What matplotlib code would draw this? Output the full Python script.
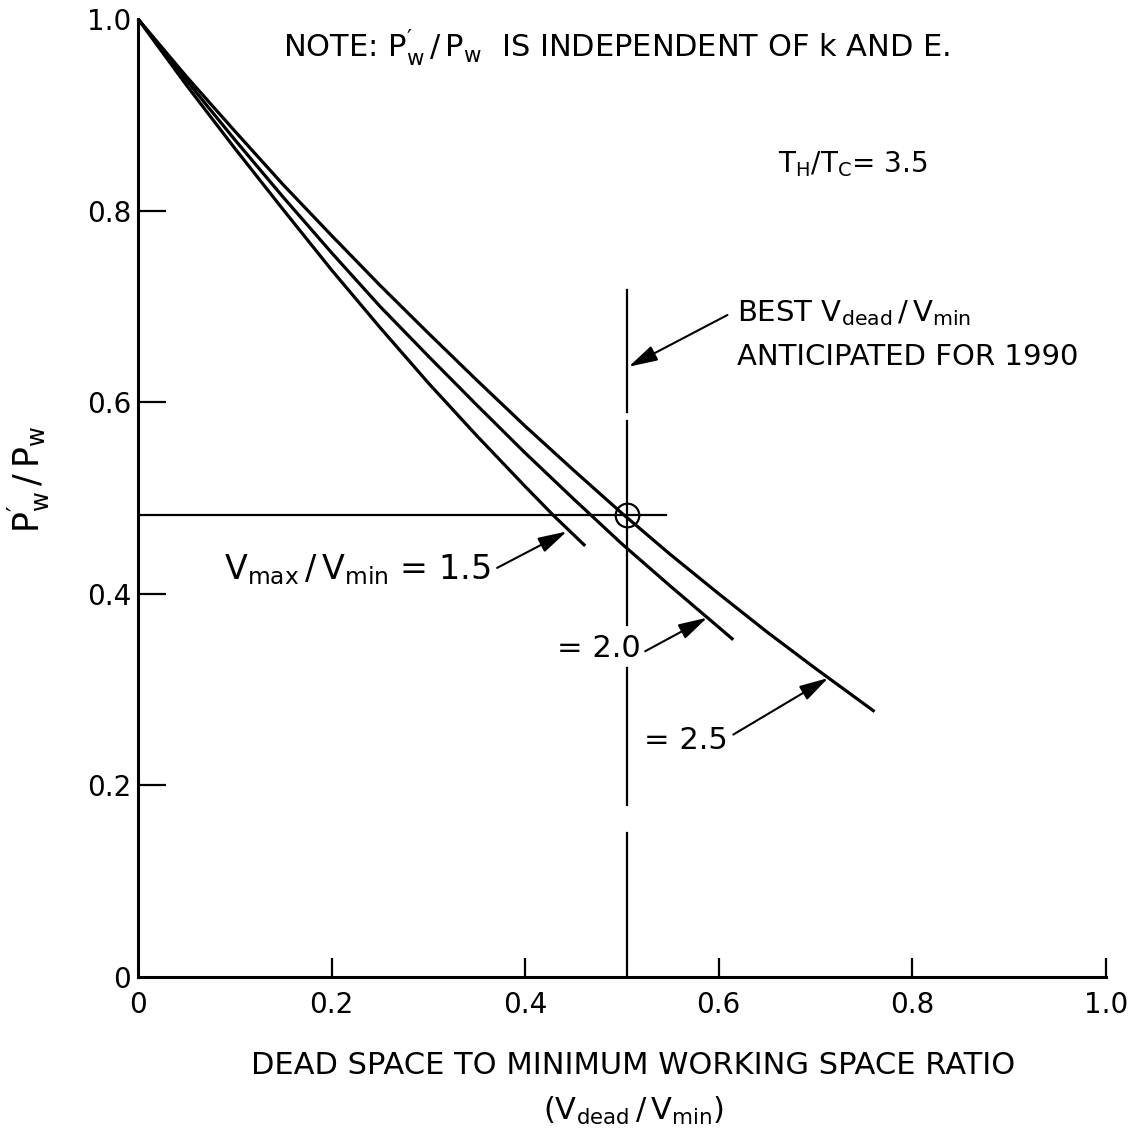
import matplotlib
matplotlib.use("Agg")
import matplotlib.pyplot as plt

plt.rcParams["font.family"] = ["DejaVu Sans"]
plt.rcParams["mathtext.fontset"] = "dejavusans"

# P'w/Pw versus Vdead/Vmin for three compression ratios (TH/TC = 3.5)
x_15 = [0.0, 0.05, 0.10, 0.15, 0.20, 0.25, 0.30, 0.35, 0.40, 0.43, 0.462]
y_15 = [1.0, 0.931, 0.865, 0.801, 0.738, 0.678, 0.620, 0.565, 0.512, 0.481, 0.450]

x_20 = [0.0, 0.05, 0.10, 0.15, 0.20, 0.25, 0.30, 0.35, 0.40, 0.45, 0.50,
        0.55, 0.60, 0.615]
y_20 = [1.0, 0.936, 0.874, 0.814, 0.756, 0.700, 0.648, 0.597, 0.547, 0.499,
        0.452, 0.408, 0.365, 0.352]

x_25 = [0.0, 0.05, 0.10, 0.15, 0.20, 0.25, 0.30, 0.35, 0.40, 0.45, 0.50,
        0.55, 0.60, 0.65, 0.70, 0.761]
y_25 = [1.0, 0.940, 0.883, 0.827, 0.774, 0.722, 0.672, 0.623, 0.575, 0.529,
        0.484, 0.441, 0.400, 0.360, 0.322, 0.277]

# design point: best Vdead/Vmin anticipated for 1990
best_ratio = 0.505
best_power = 0.482

x_ticks = [0.0, 0.2, 0.4, 0.6, 0.8, 1.0]
x_tick_labels = ["0", "0.2", "0.4", "0.6", "0.8", "1.0"]
y_ticks = [0.0, 0.2, 0.4, 0.6, 0.8, 1.0]
y_tick_labels = ["0", "0.2", "0.4", "0.6", "0.8", "1.0"]

fig = plt.figure(figsize=(11.3, 11.36), dpi=100)
ax = fig.add_axes([0.1221, 0.14, 0.8566, 0.8433])
ax.set_xlim(0, 1.0)
ax.set_ylim(0, 1.0)

for xs, ys in ((x_15, y_15), (x_20, y_20), (x_25, y_25)):
    ax.plot(xs, ys, color="black", lw=2.3, solid_joinstyle="round",
            solid_capstyle="butt", clip_on=False)

# horizontal reference line and broken vertical design line
ax.plot([0.0, 0.545], [best_power, best_power], color="black", lw=1.6)
v_segments = [(0.717, 0.590), (0.580, 0.367), (0.322, 0.180), (0.150, 0.0)]
for top, bottom in v_segments:
    ax.plot([best_ratio, best_ratio], [top, bottom], color="black", lw=1.6)
ax.plot([best_ratio], [best_power], marker="o", ms=17, mfc="none",
        mec="black", mew=1.6)

# spines and ticks
for side in ("top", "right"):
    ax.spines[side].set_visible(False)
for side in ("left", "bottom"):
    ax.spines[side].set_linewidth(2.2)

ax.set_xticks(x_ticks)
ax.set_xticklabels(x_tick_labels)
ax.set_yticks(y_ticks)
ax.set_yticklabels(y_tick_labels)
ax.tick_params(axis="x", direction="in", length=14, width=1.6, pad=10,
               labelsize=20)
ax.tick_params(axis="y", direction="in", length=20, width=1.6, pad=5,
               labelsize=20)
ax.xaxis.get_major_ticks()[0].tick1line.set_visible(False)
ax.yaxis.get_major_ticks()[0].tick1line.set_visible(False)
ax.yaxis.get_major_ticks()[-1].tick1line.set_visible(False)

# annotations
fs = 21
ax.text(0.150, 0.970,
        r"NOTE: $\mathregular{P_w^{\prime}\,/\,P_w}$  IS INDEPENDENT OF k AND E.",
        fontsize=22, ha="left", va="center")
ax.text(0.661, 0.848, r"$\mathregular{T_H/T_C}$= 3.5", fontsize=20,
        ha="left", va="center")
ax.text(0.619, 0.693, r"BEST $\mathregular{V_{dead}\,/\,V_{min}}$", fontsize=fs,
        ha="left", va="center")
ax.text(0.619, 0.647, "ANTICIPATED FOR 1990", fontsize=fs, ha="left",
        va="center")
ax.text(0.364, 0.425, r"$\mathregular{V_{max}\,/\,V_{min}}$ = 1.5", fontsize=24,
        ha="right", va="center")
ax.text(0.519, 0.343, "= 2.0", fontsize=22, ha="right", va="center")
ax.text(0.609, 0.247, "= 2.5", fontsize=22, ha="right", va="center")

arrow = dict(arrowstyle="-|>,head_length=0.8,head_width=0.22", color="black",
             lw=1.5, mutation_scale=22, shrinkA=0, shrinkB=0)
ax.annotate("", xy=(0.507, 0.637), xytext=(0.609, 0.691), arrowprops=arrow)
ax.annotate("", xy=(0.443, 0.465), xytext=(0.371, 0.427), arrowprops=arrow)
ax.annotate("", xy=(0.588, 0.375), xytext=(0.524, 0.340), arrowprops=arrow)
ax.annotate("", xy=(0.713, 0.312), xytext=(0.615, 0.253), arrowprops=arrow)

# axis titles
ax.text(0.512, -0.092, "DEAD SPACE TO MINIMUM WORKING SPACE RATIO",
        fontsize=22, ha="center", va="center", clip_on=False)
ax.text(0.512, -0.140, r"($\mathregular{V_{dead}\,/\,V_{min}}$)", fontsize=22,
        ha="center", va="center", clip_on=False)
ax.text(-0.113, 0.519, r"$\mathregular{P_w^{\prime}\,/\,P_w}$", fontsize=25,
        rotation=90, ha="center", va="center", clip_on=False)

fig.savefig("out.png", dpi=100)
